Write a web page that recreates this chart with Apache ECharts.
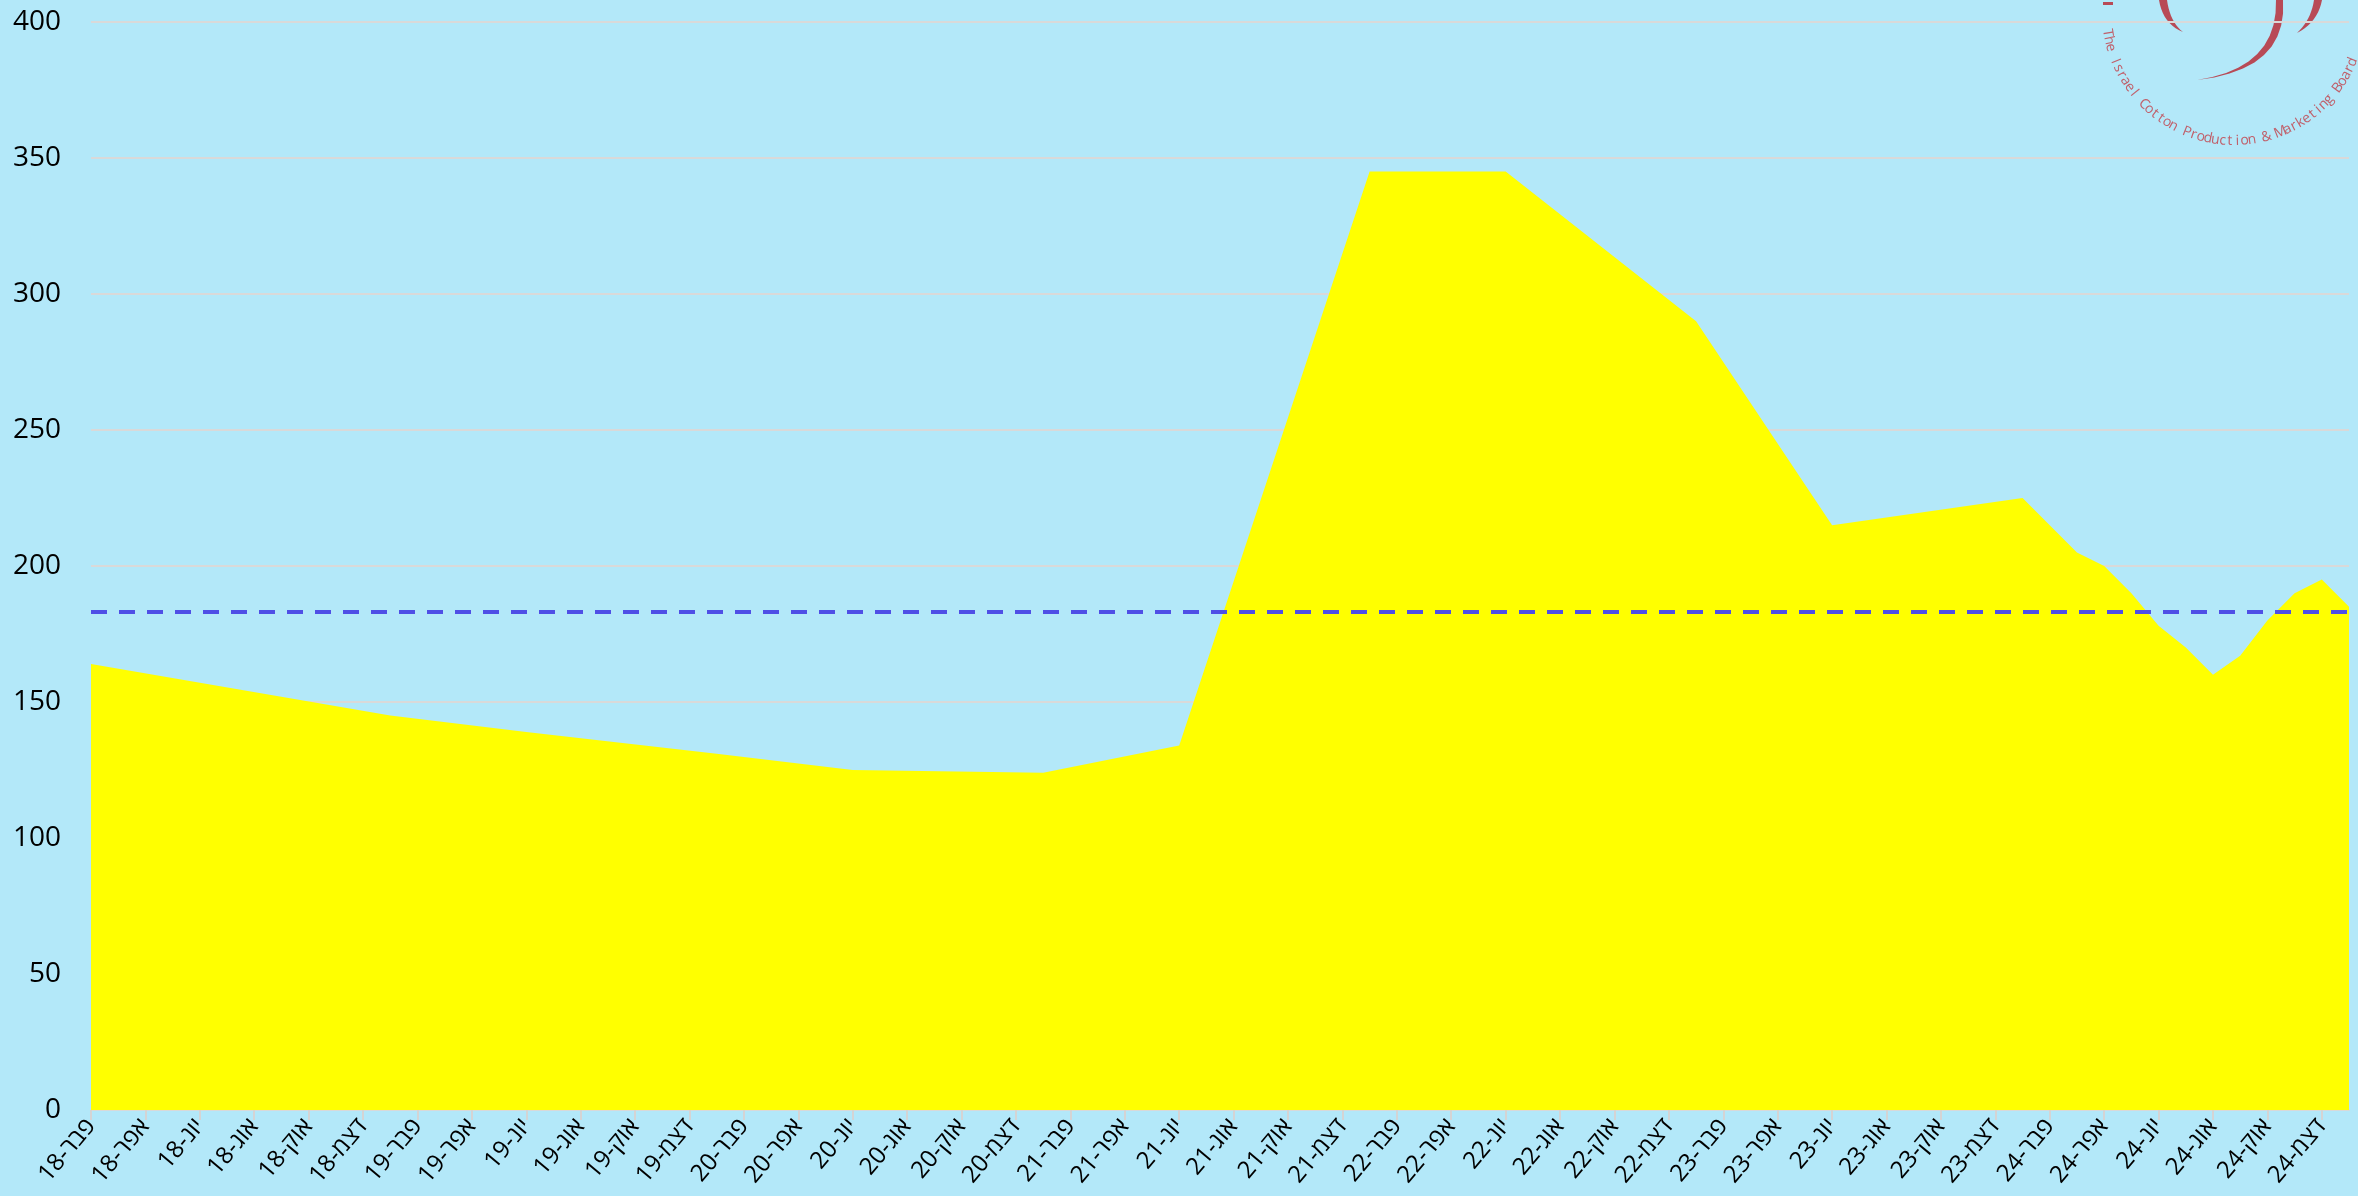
<!DOCTYPE html>
<html>
<head>
<meta charset="utf-8">
<script src="https://cdn.jsdelivr.net/npm/echarts@6/dist/echarts.min.js"></script>
<style>
  html, body { margin: 0; padding: 0; background: #b3e8f9; }
  #chart { width: 2358px; height: 1196px; }
</style>
</head>
<body>
<div id="chart"></div>
<script>
// Hebrew month abbreviations (Excel style)
const monthNames = ['ינו', 'פבר', 'מרץ', 'אפר', 'מאי', 'יונ', 'יול', 'אוג', 'ספט', 'אוק', 'נוב', 'דצמ'];
// first and last labelled month, label every 2 months
const firstLabel = '2018-02';
const lastLabel = '2024-12';

// price points (date, value)
const dates = ['2018-02', '2019-01', '2019-06', '2020-01', '2020-06', '2021-01', '2021-06',
  '2022-01', '2022-06', '2023-01', '2023-06', '2024-01', '2024-03', '2024-04', '2024-05',
  '2024-06', '2024-07', '2024-08', '2024-09', '2024-10', '2024-11', '2024-12', '2025-01'];
const values = [164, 145, 139, 131, 125, 124, 134,
  345, 345, 290, 215, 225, 205, 200, 190,
  178, 170, 160, 167, 180, 190, 195, 185];
// dashed reference line
const refValue = 183;

const yTicks = [0, 50, 100, 150, 200, 250, 300, 350, 400];

// months counted from firstLabel
function monthIndex(s) {
  const [y, m] = s.split('-').map(Number);
  const [y0, m0] = firstLabel.split('-').map(Number);
  return (y - y0) * 12 + (m - m0);
}
function labelOf(idx) {
  const [y0, m0] = firstLabel.split('-').map(Number);
  const total = y0 * 12 + (m0 - 1) + idx;
  const y = Math.floor(total / 12);
  const m = total % 12;
  return monthNames[m] + '-' + String(y).slice(2);
}

const tickPos = [];
for (let i = 0; i <= monthIndex(lastLabel); i += 2) tickPos.push(i);

const seriesData = dates.map((d, i) => [monthIndex(d), values[i]]);

// logo: text along an arc + red crescents (decoration only)
const logoColor = '#b84a56';
function crescent(a0, c1, a1, c2, a2) {
  const pts = [];
  const q = (p, c, e, t) => [(1 - t) * (1 - t) * p[0] + 2 * (1 - t) * t * c[0] + t * t * e[0],
    (1 - t) * (1 - t) * p[1] + 2 * (1 - t) * t * c[1] + t * t * e[1]];
  for (let t = 0; t <= 1.0001; t += 0.1) pts.push(q(a0, c1, a1, t));
  for (let t = 0; t <= 1.0001; t += 0.1) pts.push(q(a1, c2, a2, t));
  return { type: 'polygon', shape: { points: pts }, style: { fill: logoColor }, silent: true };
}
const logoText = 'The Israel Cotton Production & Marketing Board';
const arcCx = 2234, arcCy = 13, arcR = 128;
const logoEls = [];
for (let i = 0; i < logoText.length; i++) {
  const th = (171 - i * 3.3) * Math.PI / 180;
  logoEls.push({
    type: 'text',
    x: arcCx + arcR * Math.cos(th),
    y: arcCy + arcR * Math.sin(th),
    rotation: Math.PI / 2 - th,
    silent: true,
    style: {
      text: logoText[i],
      fill: '#c0606b',
      font: '14px "Open Sans", "Noto Sans", sans-serif',
      align: 'center', verticalAlign: 'middle',
      textAlign: 'center', textVerticalAlign: 'middle'
    }
  });
}
logoEls.push(crescent([2283, 0], [2288, 70], [2197, 80], [2278, 68], [2276, 0]));
logoEls.push(crescent([2159, 0], [2163, 24], [2183, 32], [2170, 22], [2167, 0]));
logoEls.push(crescent([2322, 0], [2318, 22], [2297, 33], [2311, 20], [2314, 0]));
logoEls.push({ type: 'rect', shape: { x: 2103, y: 2, width: 10, height: 3 }, style: { fill: logoColor }, silent: true });

const option = {
  animation: false,
  backgroundColor: '#b3e8f9',
  grid: { left: 91, right: 9, top: 22, bottom: 86 },
  xAxis: {
    type: 'value',
    min: 0,
    max: monthIndex(dates[dates.length - 1]),
    axisLine: { show: true, lineStyle: { color: '#d9d9d9', width: 2 } },
    axisTick: {
      show: true, customValues: tickPos, length: 10,
      lineStyle: { color: '#d4d4d4', width: 2 }
    },
    axisLabel: {
      customValues: tickPos,
      rotate: 50,
      margin: 12,
      color: '#000',
      fontSize: 24,
      fontFamily: '"Open Sans", "Liberation Sans", "DejaVu Sans", sans-serif',
      formatter: v => labelOf(Math.round(v))
    },
    splitLine: { show: false }
  },
  yAxis: {
    type: 'value',
    min: yTicks[0],
    max: yTicks[yTicks.length - 1],
    interval: 50,
    axisLine: { show: false },
    axisTick: { show: false },
    axisLabel: {
      margin: 30,
      color: '#000',
      fontSize: 28,
      fontFamily: '"Open Sans", "Noto Sans", sans-serif'
    },
    splitLine: { lineStyle: { color: '#d9d9d9', width: 2 } }
  },
  series: [
    {
      type: 'line',
      data: seriesData,
      symbol: 'none',
      lineStyle: { width: 0 },
      areaStyle: { color: '#ffff00', opacity: 1 },
      markLine: {
        silent: true,
        symbol: 'none',
        label: { show: false },
        lineStyle: { color: '#4f4fe6', width: 4, type: [16, 12] },
        data: [{ yAxis: refValue }]
      }
    }
  ],
  graphic: logoEls
};

const myChart = echarts.init(document.getElementById('chart'));
myChart.setOption(option);
</script>
</body>
</html>
